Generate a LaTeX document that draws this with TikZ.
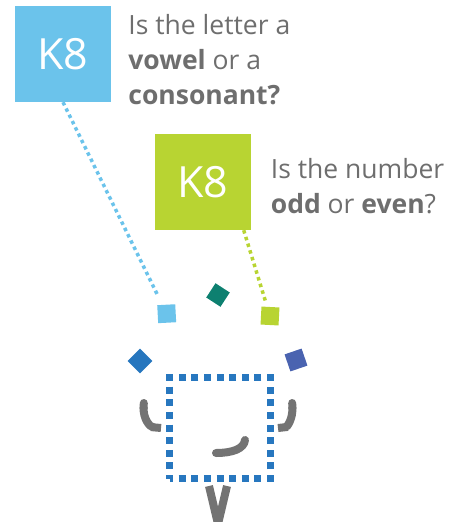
\documentclass[tikz,border=0pt]{standalone}
\usepackage{fontspec}
\setmainfont{Open Sans}
\usetikzlibrary{positioning, arrows.meta}

\definecolor{letterblue}{HTML}{6BC3EB}
\definecolor{numbergreen}{HTML}{B8D432}
\definecolor{tileteal}{HTML}{0D8070}
\definecolor{tileblue}{HTML}{2676BE}
\definecolor{tileindigo}{HTML}{4A63B0}
\definecolor{bodyblue}{HTML}{2777BF}
\definecolor{limbgray}{HTML}{737373}
\definecolor{qgray}{HTML}{6E6E6E}

\begin{document}
\begin{tikzpicture}[
    x=1pt, y=-1pt,
    card/.style={rectangle, minimum size=96pt, inner sep=0pt, text=white, font=\fontsize{43}{43}\selectfont},
    question/.style={anchor=north west, align=left, inner sep=0pt, text=qgray, font=\fontsize{26.5}{35}\selectfont},
    tile/.style={rectangle, minimum size=18pt, inner sep=0pt},
    link/.style={line width=3.5pt, dash pattern=on 3.5pt off 3.5pt},
    body/.style={rectangle, minimum size=101pt, inner sep=0pt, draw=bodyblue, line width=7pt, dash pattern=on 7pt off 5.625pt, dash phase=3.5pt},
    limb/.style={line width=8pt, draw=limbgray}
]
\useasboundingbox (0,0) rectangle (463,522);

% Cards and their questions
\node[card, fill=letterblue] (letterbox) at (63,54) {K8};
\node[question] (letterq) at ([xshift=17pt, yshift=-8pt]letterbox.north east)
    {Is the letter a\\ \textbf{vowel} or a\\ \textbf{consonant?}};

\node[card, fill=numbergreen] (numberbox) at (202.5,182) {K8};
\node[question] (numberq) at ([xshift=20pt, yshift=-24pt]numberbox.north east)
    {Is the number\\ \textbf{odd} or \textbf{even}?};

% Juggled tiles
\node[tile, fill=letterblue, rotate=3] (lettertile) at (166.7,313.7) {};
\node[tile, fill=numbergreen, rotate=-3] (numbertile) at (270,316) {};
\node[tile, fill=tileteal, minimum size=17pt, rotate=-33] (tealtile) at (218,295) {};
\node[tile, fill=tileblue, minimum size=17.5pt, rotate=45] (bluetile) at (140,361) {};
\node[tile, fill=tileindigo, rotate=19] (indigotile) at (296,360) {};

% Dotted links from cards to tiles
\draw[link, letterblue, shorten >=11pt] (letterbox.south) -- (lettertile);
\draw[link, numbergreen, shorten >=4pt] ([xshift=-7pt]numberbox.south east) -- (numbertile);

% Juggler
\node[body] (body) at (220,428) {};
\draw[limb, {Round Cap[]}-{Butt Cap[]}] (144,399) .. controls (143,419) and (150,427) .. (161,428);
\draw[limb, {Round Cap[]}-{Butt Cap[]}] (292,399) .. controls (293,419) and (287,427) .. (278,428);
\draw[limb, line cap=round] (216,453) .. controls (232,453) and (244,449) .. (245,440);
\draw[limb, miter limit=10] (209,486) -- (218,524) -- (227,486);

\end{tikzpicture}
\end{document}
